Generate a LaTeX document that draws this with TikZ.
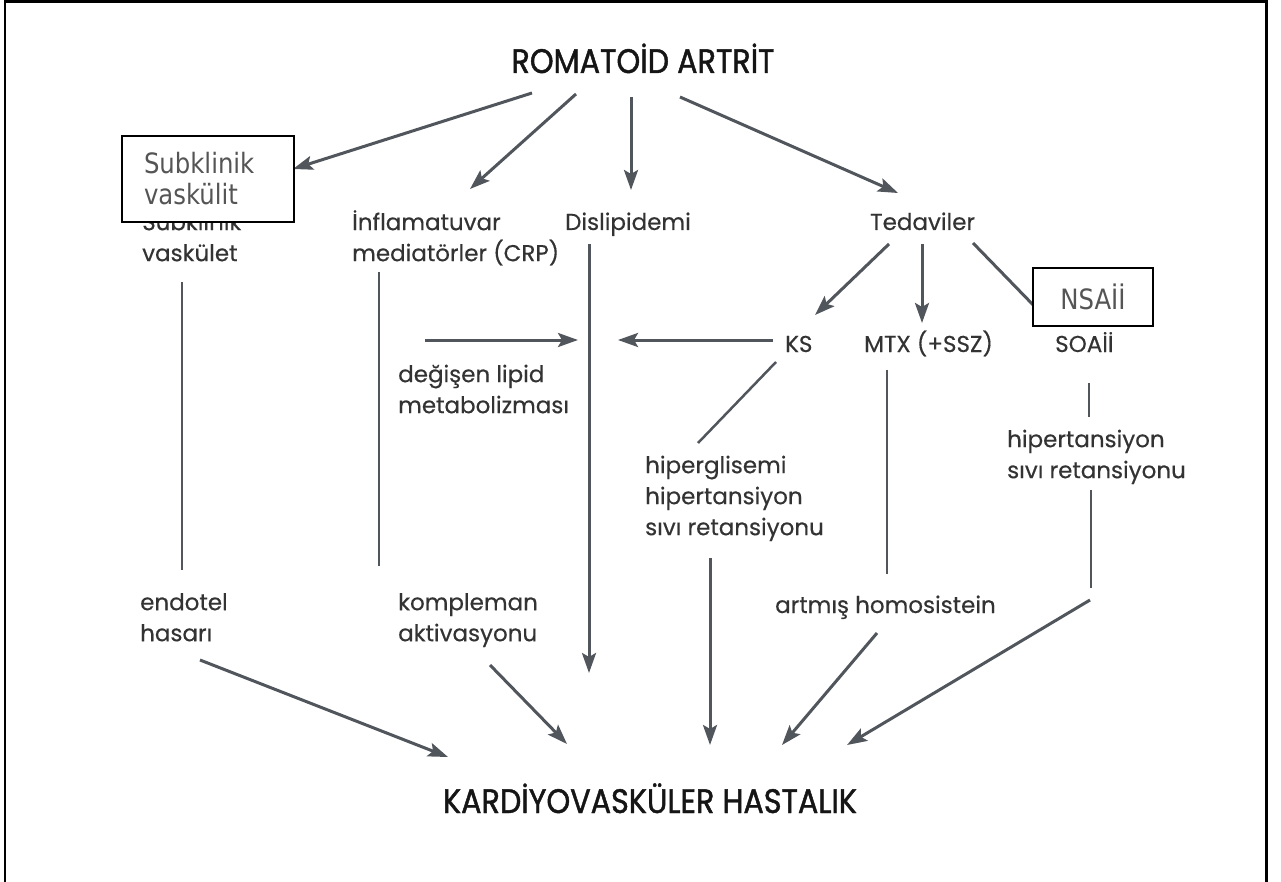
\documentclass[tikz,border=0pt]{standalone}
\usepackage{fontspec}
\usetikzlibrary{arrows.meta}
\newfontfamily\popfont[FakeBold=0.4]{Poppins}
\newfontfamily\poptitle[FakeStretch=0.89,FakeBold=1.3]{Poppins}
\newfontfamily\boxfont[FakeStretch=0.87]{DejaVu Sans}
\definecolor{arrgray}{HTML}{50565C}
\definecolor{labgray}{HTML}{333333}
\definecolor{titlegray}{HTML}{151515}
\definecolor{boxtext}{HTML}{555555}
\newcommand\fstrut{\rule{0pt}{24pt}}
\begin{document}
\begin{tikzpicture}[x=1pt,y=-1pt,
  lab/.style={font={\popfont\fontsize{23}{31}\selectfont}, text=labgray, align=left, inner sep=0pt, anchor=north west},
  single/.style={font={\popfont\fontsize{23}{31}\selectfont}, text=labgray, inner sep=0pt, anchor=base west},
  ttl/.style={font={\poptitle\fontsize{34}{40}\selectfont}, text=titlegray, inner sep=0pt, anchor=base},
  arr/.style={draw=arrgray, line width=3pt, -{Stealth[length=20pt,width=14pt,inset=4pt]}},
  ln/.style={draw=arrgray, line width=2.5pt},
  cover/.style={draw=black, line width=2pt, fill=white, font={\boxfont\fontsize{28}{31}\selectfont}, text=boxtext}]
\useasboundingbox (0,0) rectangle (1281,882);
% frame
\draw[line width=2.5pt] (5,882) -- (5,1.5) -- (1266.5,1.5) -- (1266.5,882);

% titles
\node[ttl] (ra) at (643,73) {ROMATOİD ARTRİT};
\node[ttl] (kv) at (650,813) {KARDİYOVASKÜLER HASTALIK};

% labels
\node[lab] (vask) at (142,206) {\fstrut Subklinik\\vaskület};
\node[lab] (infl) at (352,206) {\fstrut İnflamatuvar\\mediatörler (CRP)};
\node[single] (disl) at (565,230) {Dislipidemi};
\node[single] (ted) at (870,230) {Tedaviler};
\node[single] (ks) at (785,352) {KS};
\node[single] (mtx) at (864,352) {MTX (+SSZ)};
\node[single] (soa) at (1055,352) {SOAİİ};
\node[lab] (lipid) at (398,358) {\fstrut değişen lipid\\metabolizması};
\node[lab] (hiperg) at (645,449) {\fstrut hiperglisemi\\hipertansiyon\\sıvı retansiyonu};
\node[lab] (hipert) at (1007,423) {\fstrut hipertansiyon\\sıvı retansiyonu};
\node[lab] (endo) at (140,586) {\fstrut endotel\\hasarı};
\node[lab] (komp) at (398,586) {\fstrut kompleman\\aktivasyonu};
\node[single] (homo) at (775,613) {artmış homosistein};

% connector end points
\coordinate (a1s) at (532,93);   \coordinate (a1e) at (293,169);
\coordinate (a2s) at (576,94);   \coordinate (a2e) at (470,189);
\coordinate (a3s) at (631,97);   \coordinate (a3e) at (631,190);
\coordinate (a4s) at (680,97);   \coordinate (a4e) at (898,193);
\coordinate (l5s) at (182,282);  \coordinate (l5e) at (182,570);
\coordinate (l6s) at (379,272);  \coordinate (l6e) at (379,566);
\coordinate (a7s) at (425,340);  \coordinate (a7e) at (578,340);
\coordinate (a8s) at (773,340);  \coordinate (a8e) at (618,340);
\coordinate (a9s) at (589,244);  \coordinate (a9e) at (589,673);
\coordinate (a10s) at (889,244); \coordinate (a10e) at (815,315);
\coordinate (a11s) at (922,244); \coordinate (a11e) at (922,323);
\coordinate (l12s) at (973,243); \coordinate (l12e) at (1040,312);
\coordinate (l13s) at (776,362); \coordinate (l13e) at (698,443);
\coordinate (l14s) at (887,370); \coordinate (l14e) at (887,574);
\coordinate (l15s) at (1089,383); \coordinate (l15e) at (1089,417);
\coordinate (l16s) at (1091,490); \coordinate (l16e) at (1091,588);
\coordinate (a17s) at (200,660); \coordinate (a17e) at (448,757);
\coordinate (a18s) at (490,665); \coordinate (a18e) at (567,744);
\coordinate (a19s) at (710,558); \coordinate (a19e) at (710,745);
\coordinate (a20s) at (877,633); \coordinate (a20e) at (782,745);
\coordinate (a21s) at (1090,600); \coordinate (a21e) at (847,745);

\draw[arr] (a1s) -- (a1e);
\draw[arr] (a2s) -- (a2e);
\draw[arr] (a3s) -- (a3e);
\draw[arr] (a4s) -- (a4e);
\draw[ln] (l5s) -- (l5e);
\draw[ln] (l6s) -- (l6e);
\draw[arr] (a7s) -- (a7e);
\draw[arr] (a8s) -- (a8e);
\draw[arr] (a9s) -- (a9e);
\draw[arr] (a10s) -- (a10e);
\draw[arr] (a11s) -- (a11e);
\draw[ln, line width=3pt] (l12s) -- (l12e);
\draw[ln] (l13s) -- (l13e);
\draw[ln] (l14s) -- (l14e);
\draw[ln] (l15s) -- (l15e);
\draw[ln] (l16s) -- (l16e);
\draw[arr] (a17s) -- (a17e);
\draw[arr] (a18s) -- (a18e);
\draw[arr] (a19s) -- (a19e);
\draw[arr] (a20s) -- (a20e);
\draw[arr] (a21s) -- (a21e);

% overlay boxes
\node[cover, text width=128pt, inner xsep=22pt, inner ysep=0pt, minimum height=86pt, align=left, anchor=north west] (box1) at (121,135) {Subklinik\\vaskülit};
\node[cover, minimum width=120pt, minimum height=58pt, inner sep=0pt, anchor=north west] (box2) at (1032,267) {NSAİİ};
\end{tikzpicture}
\end{document}
